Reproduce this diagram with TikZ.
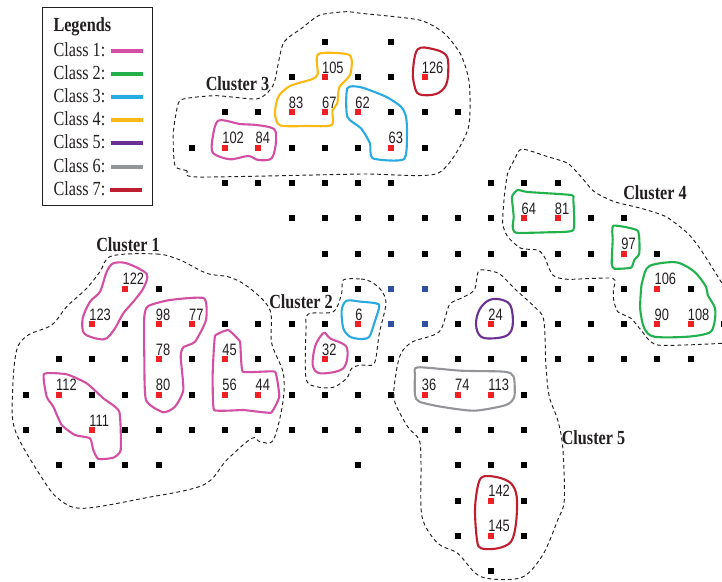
\documentclass[tikz,border=0pt]{standalone}
\usepackage{fontspec}
\setmainfont{Liberation Serif}
\newfontfamily\lblfont{Liberation Sans}
\usetikzlibrary{calc}
\definecolor{ink}{HTML}{231F20}
\definecolor{cA}{HTML}{D24FA3}
\definecolor{cB}{HTML}{22B14C}
\definecolor{cC}{HTML}{29ABE2}
\definecolor{cD}{HTML}{FDB913}
\definecolor{cE}{HTML}{6A3093}
\definecolor{cF}{HTML}{939598}
\definecolor{cG}{HTML}{BE1E2D}
\definecolor{ptred}{HTML}{EE2024}
\definecolor{ptblue}{HTML}{2E4FA2}
\newcommand{\cnd}[1]{\scalebox{.81}[1]{#1}}
\newcommand{\nrw}[1]{\scalebox{.78}[1]{#1}}
\newcommand{\colx}[1]{25.7+33.25*#1}
\newcommand{\rowy}[1]{41.7+35.3*#1}
\tikzset{
  pt/.style={rectangle,inner sep=0pt,minimum size=6pt,fill=#1,draw=none},
  ptlabel/.style={anchor=base west,inner sep=0pt,text=ink,font=\lblfont\fontsize{16.5}{16.5}\selectfont},
  blob/.style={draw=#1,line width=2.1pt,line join=round},
  cluster/.style={draw=ink,line width=.95pt,dash pattern=on 3.8pt off 3pt},
  clabel/.style={inner sep=0pt,text=ink,font=\fontsize{20}{20}\selectfont\bfseries},
  legtext/.style={anchor=west,inner sep=0pt,text=ink,font=\fontsize{20}{20}\selectfont},
  legline/.style={draw=#1,line width=4pt}
}
\begin{document}
\begin{tikzpicture}[x=1pt,y=-1pt]
\useasboundingbox[fill=white] (0,0) rectangle (722,581);
% black grid points
\foreach \r/\cs in {0/{9,11},1/{8,10,11},2/{6,7,11,12,13},3/{5,8,9,10,12},4/{6,7,8,9,10,11,14,15,16},
  5/{8,9,10,11,12,13,14,17,18},6/{9,10,11,12,13,14,15,16,17,19},7/{4,9,10,13,14,15,16,17,18,20},
  8/{3,6,7,8,9,13,15,16,17,18,21},9/{1,2,3,5,7,8,10,11,12,13,14,15,16,17,18,19,20},
  10/{0,2,3,5,8,9,10,11,15},11/{0,1,3,4,5,6,7,8,9,10,11,12,13,14,15},12/{1,2,3,4,10,13,14,15},
  13/{13,15},14/{13,15},15/{14}}
  \foreach \c in \cs
    \node[pt=black] (b-\c-\r) at ({\colx{\c}},{\rowy{\r}}) {};
% blue points
\foreach \c/\r in {11/7,12/7,11/8,12/8}
  \node[pt=ptblue] (u-\c-\r) at ({\colx{\c}},{\rowy{\r}}) {};
% red labelled points
\foreach \c/\r/\t in {9/1/105,12/1/126,8/2/83,9/2/67,10/2/62,6/3/102,7/3/84,11/3/63,15/5/64,16/5/81,18/6/97,
  3/7/122,19/7/106,2/8/123,4/8/98,5/8/77,10/8/6,14/8/24,19/8/90,20/8/108,4/9/78,6/9/45,9/9/32,
  1/10/112,4/10/80,6/10/56,7/10/44,12/10/36,13/10/74,14/10/113,2/11/111,14/13/142,14/14/145}{
  \node[pt=ptred] (r\t) at ({\colx{\c}},{\rowy{\r}}) {};
  \node[ptlabel] (t\t) at ([xshift=-3pt,yshift=4pt]r\t.center) {\nrw{\t}};
}
% clusters
\draw[cluster] plot[smooth cycle,tension=.55] coordinates {(111.7,256)(156.7,254)(180,260)(206.7,273.3)(230,277.3)(250,288.3)(270,310)(271.7,343.3)(283.3,373.3)(282.7,403.3)(273.3,440)(260,441.7)(251.7,438.3)(226.7,460)(203.3,485)(143.3,498.3)(83.3,508.3)(60,500)(43.3,480)(15,430)(12.7,390)(16.7,350)(28.3,335)(51.7,325)(66.7,306.7)(86.7,288.3)(100,271.7)};
\draw[cluster] plot[smooth cycle,tension=.5] coordinates {(343.3,280)(361,279)(371,281.7)(381,290)(386,303.3)(379.3,333.3)(374.3,363.3)(361,365)(351.7,368.3)(346.7,378.3)(333.3,387.3)(316.7,386.7)(306,378.3)(306,330)(308.3,314)(333.3,311.7)(341.7,293.3)};
\draw[cluster] plot[smooth cycle,tension=.4] coordinates {(198,177)(187,170.7)(175,165.7)(173.3,133)(178.3,103.3)(186.7,98.3)(216.7,95.7)(256.7,99)(270,90)(275,80)(283.3,43.3)(301.7,28.3)(320,15)(346.7,11.7)(361,13.3)(419.3,20)(444.3,33.3)(461,55)(469.3,83.3)(467.7,130)(437.7,173.3)(361,174)};
\draw[cluster] plot[smooth,tension=.4] coordinates {(722,343.3)(657.7,345)(641,330)(631,318.3)(617.7,311.7)(613.7,300)(613.3,290)(612.7,278.3)(567.7,279.3)(552.7,275)(544.3,256.7)(537.7,250)(521,248.3)(507.7,236.7)(502.7,223.3)(504.3,196.7)(507.7,173.3)(514.3,160)(521.7,149)(547.7,156.7)(567.7,163.3)(581,176.7)(594.3,191.7)(614.3,201.7)(641,208.3)(666,216.7)(687.7,233.3)(701,250)(722,283.3)};
\draw[cluster] plot[smooth cycle,tension=.5] coordinates {(474.3,290)(461,298.3)(449.3,305)(439.3,331.7)(412.7,341.7)(401,353.3)(396,373.3)(394.3,400)(407.7,426.7)(419.3,440)(421,463.3)(422,516.7)(437.7,543.3)(457.7,553.3)(481,576.7)(521,577.7)(542.7,555)(557.7,520)(564.3,500)(562.7,446.7)(557.7,420)(549.3,396.7)(546,366.7)(543.7,320)(534.3,306.7)(516,290)(501,275)(491,271)(478.7,271)};
% class outlines
\draw[blob=cA] plot[smooth cycle,tension=.5] coordinates {(218.3,120.7)(240,124)(256.7,125)(274,129)(276,141.7)(271.7,158.3)(258.3,160)(248.3,156)(230,159.3)(213.3,153.3)(212.3,140)};
\draw[blob=cD] plot[smooth cycle,tension=.45] coordinates {(318.3,54)(346.7,54)(351.7,60)(350,75)(339.3,87.3)(337.3,103.3)(332.3,110.7)(331.7,125)(306.7,126)(280,125.3)(275,113.3)(278.3,96.7)(290,86)(311.7,79.3)(317.7,74)};
\draw[blob=cC] plot[smooth cycle,tension=.4] coordinates {(347.3,88.3)(361,87.3)(386,96.7)(401,106.7)(406,116.7)(407,135)(403.7,159.3)(372.7,158.3)(370,143.3)(361,128.3)(347.3,116.7)};
\draw[blob=cG] plot[smooth cycle,tension=.6] coordinates {(417.7,49.3)(432.7,49)(446,55)(448.3,68.3)(446,85)(436,94)(419.3,94.3)(414.3,85)(413,70)};
\draw[blob=cB] plot[smooth cycle,tension=.3] coordinates {(517.7,190)(527.7,192)(571,195)(573.3,200)(573.3,230)(547.7,232.3)(516,232.7)(512.7,226.7)(513.7,216.7)(512,196.7)};
\draw[blob=cB] plot[smooth cycle,tension=.3] coordinates {(613.3,225.7)(637.7,230.7)(639.3,253.3)(634.3,260)(631,267.7)(614.3,268.7)(611.7,263.3)(612.7,240)};
\draw[blob=cB] plot[smooth cycle,tension=.5] coordinates {(649.3,266)(676,262.3)(694.3,271.7)(706,286.7)(707.7,295)(715,308.3)(714.3,323.3)(709.3,332.7)(687.7,336.7)(654.3,336.7)(644.3,328.3)(640.3,310)(641,290)(642.7,280)};
\draw[blob=cE] plot[smooth cycle,tension=.6] coordinates {(489.3,300)(502.7,300)(511,306.7)(512.7,325)(507.7,335)(494.3,338.3)(481,336.7)(476,325)(479.3,310)};
\draw[blob=cF] plot[smooth cycle,tension=.4] coordinates {(417.7,367.3)(461,370.7)(504.3,371.7)(513.7,376.7)(514.3,396.7)(506,405)(474.3,410.7)(441,406.7)(419.3,401.7)(415,395)(415,375)};
\draw[blob=cG] plot[smooth cycle,tension=.55] coordinates {(482.7,476.7)(497.7,477.3)(511,483.3)(516.7,496.7)(516,523.3)(511,541.7)(497.7,548.3)(481,548.3)(477,540)(475,510)(477.7,486.7)};
\draw[blob=cC] plot[smooth cycle,tension=.5] coordinates {(346.7,300.7)(361,301.7)(376,303.3)(379.3,306.7)(374.3,323)(369.3,336.7)(361,339)(350,336.7)(343.3,328.3)(341.7,310)};
\draw[blob=cA] plot[smooth cycle,tension=.55] coordinates {(325,332.7)(330,338.3)(346.7,347.3)(343.3,368.3)(320,373.3)(312.7,365)(315,346.7)(320.7,336)};
\draw[blob=cA] plot[smooth cycle,tension=.5] coordinates {(113.3,263.3)(126.7,263.3)(146.7,274)(143.3,288.3)(133.3,301.7)(123.3,313.3)(115,328.3)(106.7,338.3)(98.3,339)(84,333.3)(82.7,318.3)(90,301.7)(100,291.7)(106.7,271.7)};
\draw[blob=cA] plot[smooth cycle,tension=.35] coordinates {(148.3,306)(170,300)(204,298.3)(206,320)(195,341.7)(183.3,347.3)(180.7,356.7)(183.3,390)(175,406.7)(163.3,412.3)(146,400)(144.3,356.7)(144.3,316.7)};
\draw[blob=cA] plot[smooth cycle,tension=.18] coordinates {(215,336)(228.3,330)(240,341.7)(242.7,371.7)(275,371.7)(279.3,396.7)(271,412.7)(243.3,410)(214,410)(212.7,373.3)};
\draw[blob=cA] plot[smooth cycle,tension=.3] coordinates {(44,374)(66.7,374.3)(86.7,383.3)(103.3,398.3)(119.3,411.7)(120.7,450)(113.3,457.7)(98.3,459)(93.3,450)(90,438.3)(75,435)(61.7,425)(53.3,406.7)(46.7,396.7)};
% cluster names
\node[clabel] (c1) at (128,245) {\cnd{Cluster 1}};
\node[clabel] (c2) at (301,301.7) {\cnd{Cluster 2}};
\node[clabel] (c3) at (237.5,83.3) {\cnd{Cluster 3}};
\node[clabel] (c4) at (655,192.7) {\cnd{Cluster 4}};
\node[clabel] (c5) at (593.5,438) {\cnd{Cluster 5}};
% legend
\node[draw=ink,line width=1pt,inner sep=0pt,minimum width=109.8pt,minimum height=197.3pt] (legend) at (97.4,106.4) {};
\node[legtext,font=\fontsize{20}{20}\selectfont\bfseries] (lt) at (53.3,26.7) {\cnd{Legends}};
\foreach \n/\y/\col/\xa/\xb in {1/50/cA/111/142.7,2/73/cB/111/142.7,3/96/cC/111/142.7,4/119/cD/111/142.7,5/142/cE/111/142.7,6/165.5/cF/111/142.7,7/189/cG/110/142}{
  \node[legtext] (lc\n) at (53.3,\y) {\cnd{Class \n:}};
  \coordinate (la\n) at (\xa,\y+1.4);
  \coordinate (lb\n) at (\xb,\y+1.4);
  \draw[legline=\col] (la\n) -- (lb\n);
}
\end{tikzpicture}
\end{document}
